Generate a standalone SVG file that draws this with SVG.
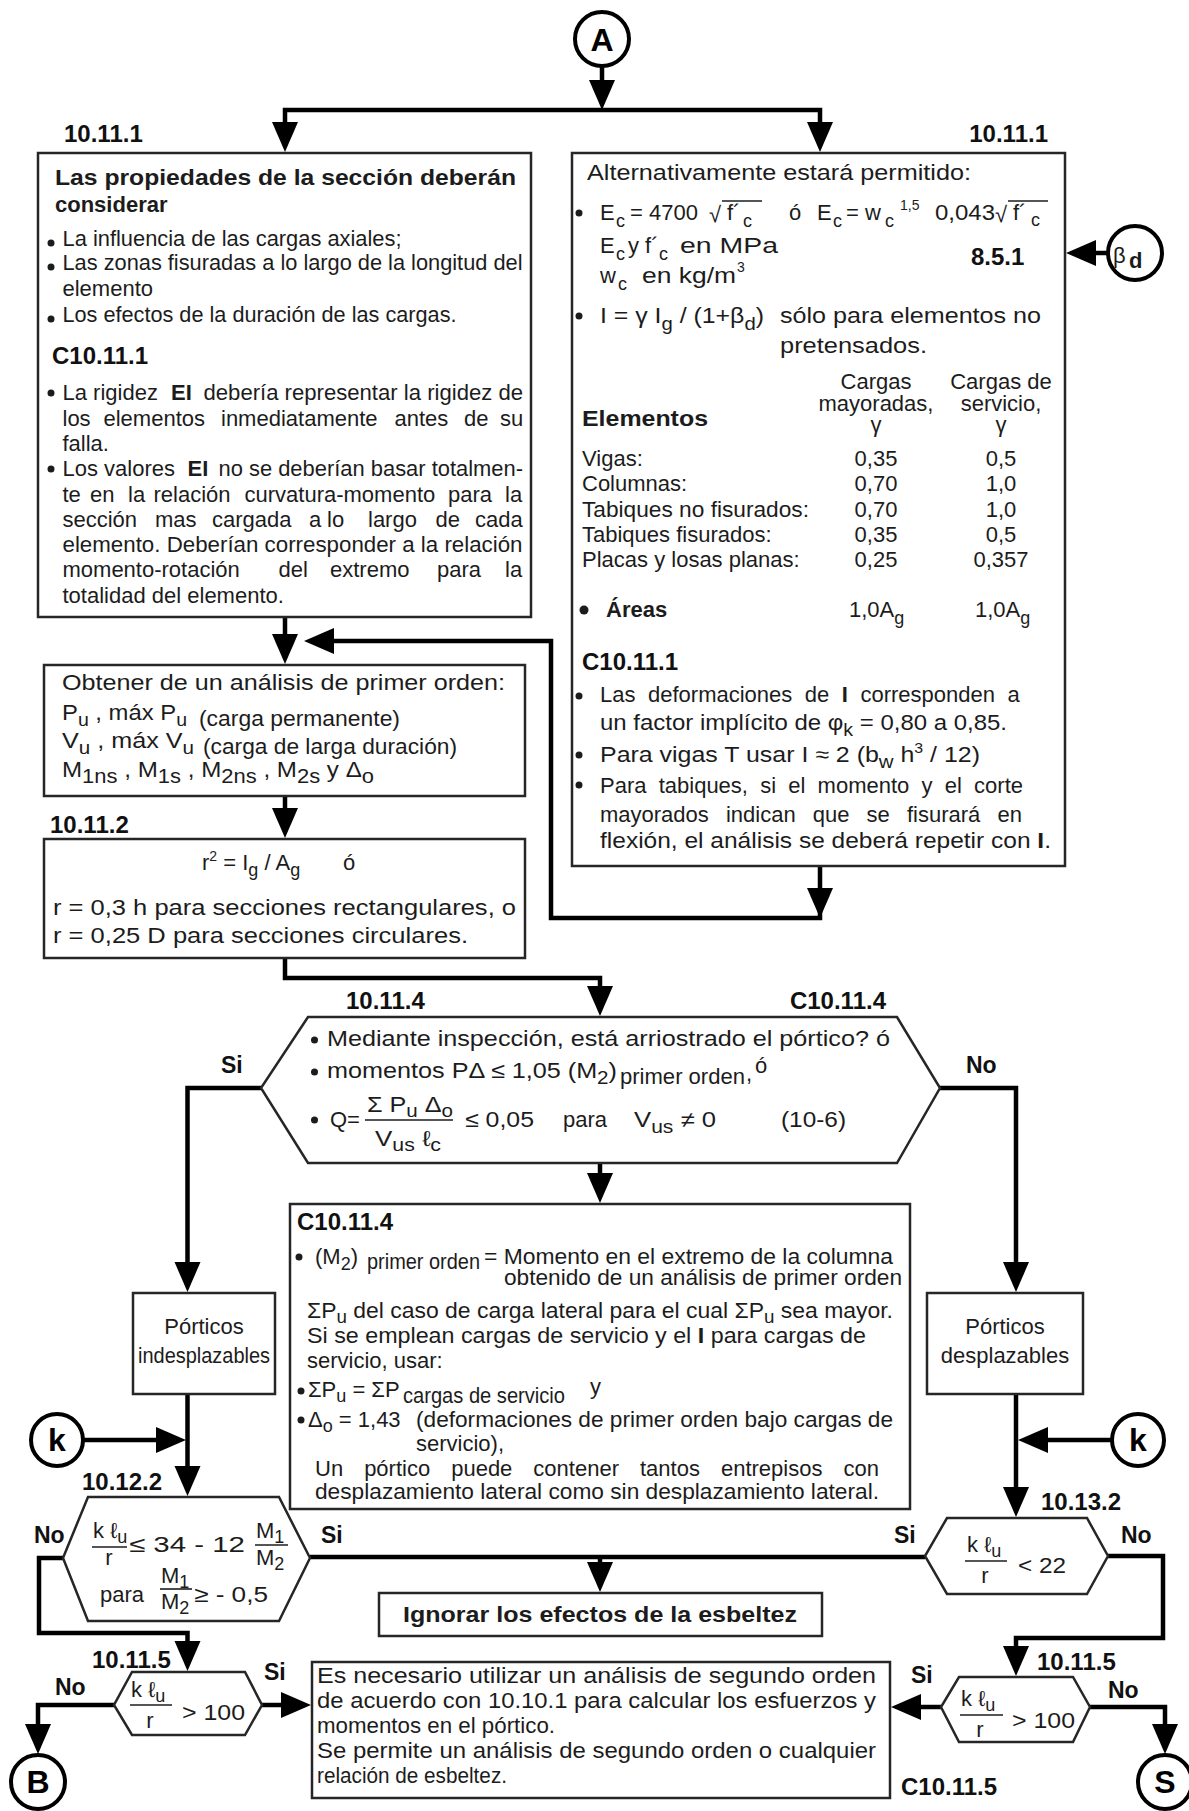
<svg xmlns="http://www.w3.org/2000/svg" width="1189" height="1811" viewBox="0 0 1189 1811">
<style>
text{font-family:"Liberation Sans",Arial,"DejaVu Sans",sans-serif;font-size:22px;fill:#1c1c1c}
.b{font-weight:bold}
.lb{font-weight:bold;font-size:24px;fill:#111}
.sn{font-weight:bold;font-size:23px;fill:#111}
.sm{font-size:18px}
.ss{font-size:14px}
.mid{text-anchor:middle}
.end{text-anchor:end}
.box{fill:#fff;stroke:#262626;stroke-width:2.5}
.cn{fill:none;stroke:#000;stroke-width:4.5}
.ci{fill:#fff;stroke:#000;stroke-width:4}
.bar{stroke:#1c1c1c;stroke-width:1.6}
.dot{fill:#1c1c1c}
.cl{font-weight:bold;font-size:32px;fill:#000;text-anchor:middle}
</style>
<defs><path id="ah" d="M0,0 L-13,-30 L13,-30 Z" fill="#000"/></defs>
<rect width="1189" height="1811" fill="#fff"/>

<g id="connectors">
<path class="cn" d="M602,66 V85"/><use href="#ah" transform="translate(602,110)"/>
<path class="cn" d="M285,125 V110 H820 V125"/><use href="#ah" transform="translate(285,152)"/><use href="#ah" transform="translate(820,152)"/>
<path class="cn" d="M285,617 V640"/><use href="#ah" transform="translate(285,664)"/>
<path class="cn" d="M820,866 V918 H551 V641 H330"/><use href="#ah" transform="translate(820,918)"/><use href="#ah" transform="translate(304,641) rotate(90)"/>
<path class="cn" d="M285,796 V815"/><use href="#ah" transform="translate(285,838)"/>
<path class="cn" d="M285,958 V978 H600 V992"/><use href="#ah" transform="translate(600,1016)"/>
<path class="cn" d="M600,1163 V1180"/><use href="#ah" transform="translate(600,1203)"/>
<path class="cn" d="M261,1088 H187.5 V1270"/><use href="#ah" transform="translate(187.5,1292)"/>
<path class="cn" d="M940,1088 H1016 V1270"/><use href="#ah" transform="translate(1016,1292)"/>
<path class="cn" d="M187.5,1394 V1475"/><use href="#ah" transform="translate(187.5,1496)"/>
<path class="cn" d="M83,1440 H160"/><use href="#ah" transform="translate(186,1440) rotate(-90)"/>
<path class="cn" d="M1016,1394 V1495"/><use href="#ah" transform="translate(1016,1517)"/>
<path class="cn" d="M1112,1440 H1045"/><use href="#ah" transform="translate(1018,1440) rotate(90)"/>
<path class="cn" d="M310,1557 H925"/>
<path class="cn" d="M600,1557 V1570"/><use href="#ah" transform="translate(600,1592)"/>
<path class="cn" d="M63,1558 H39 V1633 H187.5 V1650"/><use href="#ah" transform="translate(187.5,1671)"/>
<path class="cn" d="M114,1705 H38 V1733"/><use href="#ah" transform="translate(38,1754)"/>
<path class="cn" d="M262,1705 H285"/><use href="#ah" transform="translate(311,1705) rotate(-90)"/>
<path class="cn" d="M1108,1556 H1163 V1638 H1016 V1655"/><use href="#ah" transform="translate(1016,1676)"/>
<path class="cn" d="M941,1707 H915"/><use href="#ah" transform="translate(891,1707) rotate(90)"/>
<path class="cn" d="M1090,1707 H1165 V1733"/><use href="#ah" transform="translate(1165,1754)"/>
<path class="cn" d="M1108,253 H1090"/><use href="#ah" transform="translate(1066,253) rotate(90)"/>
</g>

<g id="n-A"><circle class="ci" cx="602" cy="39" r="27"/><text class="cl" x="602" y="51">A</text></g>

<g id="n-props">
<text class="lb" x="64" y="142">10.11.1</text>
<rect class="box" x="38" y="153" width="493" height="464"/>
<text class="b" x="55" y="185" font-size="24.5" textLength="461" lengthAdjust="spacingAndGlyphs">Las propiedades de la sección deberán</text>
<text class="b" x="55" y="212" font-size="24.5">considerar</text>
<circle class="dot" cx="51" cy="243" r="3.5"/><circle class="dot" cx="51" cy="267" r="3.5"/><circle class="dot" cx="51" cy="319" r="3.5"/>
<text x="62.5" y="246" textLength="339" lengthAdjust="spacingAndGlyphs">La influencia de las cargas axiales;</text>
<text x="62.5" y="270" textLength="460" lengthAdjust="spacingAndGlyphs">Las zonas fisuradas a lo largo de la longitud del</text>
<text x="62.5" y="296">elemento</text>
<text x="62.5" y="322" textLength="394" lengthAdjust="spacingAndGlyphs">Los efectos de la duración de las cargas.</text>
<text class="lb" x="52" y="364">C10.11.1</text>
<circle class="dot" cx="51" cy="393" r="3.5"/><circle class="dot" cx="51" cy="469" r="3.5"/>
<text x="62.5" y="400">La rigidez</text><text class="b" x="171" y="400">EI</text>
<text x="203.5" y="400" textLength="319.5" lengthAdjust="spacingAndGlyphs">debería representar la rigidez de</text>
<text y="426"><tspan x="62.5">los</tspan><tspan x="103.5">elementos</tspan><tspan x="221">inmediatamente</tspan><tspan x="394.5">antes</tspan><tspan x="464">de</tspan><tspan x="500">su</tspan></text>
<text x="62.5" y="451">falla.</text>
<text x="62.5" y="476">Los valores</text><text class="b" x="187.5" y="476">EI</text>
<text x="218.5" y="476" textLength="304.5" lengthAdjust="spacingAndGlyphs">no se deberían basar totalmen-</text>
<text y="502"><tspan x="62.5">te</tspan><tspan x="90">en</tspan><tspan x="128">la</tspan><tspan x="153.5">relación</tspan><tspan x="244.5">curvatura-momento</tspan><tspan x="448">para</tspan><tspan x="505">la</tspan></text>
<text y="527"><tspan x="62.5">sección</tspan><tspan x="155">mas</tspan><tspan x="212">cargada</tspan><tspan x="309">a</tspan><tspan x="327">lo</tspan><tspan x="368">largo</tspan><tspan x="435.5">de</tspan><tspan x="475">cada</tspan></text>
<text x="62.5" y="552" textLength="460" lengthAdjust="spacingAndGlyphs">elemento. Deberían corresponder a la relación</text>
<text y="577"><tspan x="62.5">momento-rotación</tspan><tspan x="278.5">del</tspan><tspan x="330">extremo</tspan><tspan x="437">para</tspan><tspan x="505">la</tspan></text>
<text x="62.5" y="603">totalidad del elemento.</text>
</g>

<g id="n-alt" font-size="25">
<text class="lb end" x="1048" y="142">10.11.1</text>
<rect class="box" x="572" y="153" width="493" height="713"/>
<text x="587" y="180" font-size="25" textLength="384" lengthAdjust="spacingAndGlyphs">Alternativamente estará permitido:</text>
<circle class="dot" cx="579" cy="213" r="3.5"/>
<text x="600" y="220" font-size="25">E</text><text class="sm" x="616" y="227">c</text>
<text x="630" y="220" font-size="25">= 4700</text>
<text x="709" y="222" font-size="25">√</text><line class="bar" x1="722" y1="201" x2="762" y2="201"/>
<text x="727" y="220" font-size="25">f´</text><text class="sm" x="743" y="227">c</text>
<text x="789" y="220" font-size="25">ó</text>
<text x="817" y="220" font-size="25">E</text><text class="sm" x="833" y="227">c</text>
<text x="846" y="220" font-size="25">= w</text><text class="sm" x="885" y="227">c</text>
<text class="ss" x="900" y="210">1,5</text>
<text x="935" y="220" font-size="25" textLength="60" lengthAdjust="spacingAndGlyphs">0,043</text>
<text x="995" y="222" font-size="25">√</text><line class="bar" x1="1008" y1="201" x2="1048" y2="201"/>
<text x="1013" y="220" font-size="25">f´</text><text class="sm" x="1031" y="226">c</text>
<text x="600" y="253" font-size="25">E</text><text class="sm" x="616" y="260">c</text>
<text x="628" y="253" font-size="25">y f´</text><text class="sm" x="659" y="260">c</text>
<text x="680" y="253" font-size="25" textLength="98" lengthAdjust="spacingAndGlyphs">en MPa</text>
<text class="lb" x="971" y="265">8.5.1</text>
<text x="600" y="283" font-size="25">w</text><text class="sm" x="618" y="290">c</text>
<text x="642" y="283" font-size="25" textLength="94" lengthAdjust="spacingAndGlyphs">en kg/m</text><text class="ss" x="737" y="272">3</text>
<circle class="dot" cx="579" cy="316" r="3.5"/>
<text x="600" y="323" font-size="25" textLength="164" lengthAdjust="spacingAndGlyphs">I = γ I<tspan class="sm" dy="7">g</tspan><tspan dy="-7"> / (1+β</tspan><tspan class="sm" dy="7">d</tspan><tspan dy="-7">)</tspan></text>
<text x="780" y="323" font-size="25" textLength="261" lengthAdjust="spacingAndGlyphs">sólo para elementos no</text>
<text x="780" y="353" font-size="25" textLength="147" lengthAdjust="spacingAndGlyphs">pretensados.</text>
<text class="mid" x="876" y="389" font-size="22.5">Cargas</text>
<text class="mid" x="876" y="411" font-size="22.5">mayoradas,</text>
<text class="mid" x="876" y="432" font-size="22.5">γ</text>
<text class="mid" x="1001" y="389" font-size="22.5">Cargas de</text>
<text class="mid" x="1001" y="411" font-size="22.5">servicio,</text>
<text class="mid" x="1001" y="432" font-size="22.5">γ</text>
<text class="b" x="582" y="426" font-size="24" textLength="126" lengthAdjust="spacingAndGlyphs">Elementos</text>
<text x="582" y="466" font-size="22.5">Vigas:</text><text class="mid" x="876" y="466" font-size="22.5">0,35</text><text class="mid" x="1001" y="466" font-size="22.5">0,5</text>
<text x="582" y="491" font-size="22.5">Columnas:</text><text class="mid" x="876" y="491" font-size="22.5">0,70</text><text class="mid" x="1001" y="491" font-size="22.5">1,0</text>
<text x="582" y="517" font-size="22.5" textLength="227" lengthAdjust="spacingAndGlyphs">Tabiques no fisurados:</text><text class="mid" x="876" y="517" font-size="22.5">0,70</text><text class="mid" x="1001" y="517" font-size="22.5">1,0</text>
<text x="582" y="542" font-size="22.5">Tabiques fisurados:</text><text class="mid" x="876" y="542" font-size="22.5">0,35</text><text class="mid" x="1001" y="542" font-size="22.5">0,5</text>
<text x="582" y="567" font-size="22.5">Placas y losas planas:</text><text class="mid" x="876" y="567" font-size="22.5">0,25</text><text class="mid" x="1001" y="567" font-size="22.5">0,357</text>
<circle class="dot" cx="584" cy="610" r="4.5"/>
<text class="b" x="606" y="617" font-size="24">Áreas</text>
<text x="849" y="617" font-size="22.5">1,0A<tspan class="sm" dy="7">g</tspan></text>
<text x="975" y="617" font-size="22.5">1,0A<tspan class="sm" dy="7">g</tspan></text>
<text class="lb" x="582" y="670">C10.11.1</text>
<circle class="dot" cx="579" cy="696" r="3.5"/><circle class="dot" cx="579" cy="755" r="3.5"/><circle class="dot" cx="579" cy="785" r="3.5"/>
<text x="600" y="702" font-size="24" word-spacing="6.4">Las deformaciones de <tspan class="b">I</tspan> corresponden a</text>
<text x="600" y="730" font-size="24" textLength="407" lengthAdjust="spacingAndGlyphs">un factor implícito de  φ<tspan class="sm" dy="6">k</tspan><tspan dy="-6"> = 0,80 a 0,85.</tspan></text>
<text x="600" y="762" font-size="24" textLength="380" lengthAdjust="spacingAndGlyphs">Para vigas T  usar   I ≈ 2 (b<tspan class="sm" dy="6">w</tspan><tspan dy="-6"> h</tspan><tspan class="ss" dy="-9">3</tspan><tspan dy="9"> / 12)</tspan></text>
<text x="600" y="793" font-size="24" word-spacing="6.1">Para tabiques, si el momento y el corte</text>
<text x="600" y="822" font-size="24" word-spacing="11">mayorados indican que se fisurará en</text>
<text x="600" y="848" font-size="24" textLength="451" lengthAdjust="spacingAndGlyphs">flexión, el análisis se deberá repetir con <tspan class="b">I</tspan>.</text>
</g>

<g id="n-beta"><circle class="ci" cx="1135" cy="253" r="27"/><text x="1113" y="263" font-size="27">β</text><text class="b" x="1129" y="268" font-size="27">d</text></g>

<g id="n-first">
<rect class="box" x="44" y="665" width="481" height="131"/>
<text x="62" y="690" font-size="25" textLength="443" lengthAdjust="spacingAndGlyphs">Obtener de un análisis de primer orden:</text>
<text x="62" y="720" font-size="25" textLength="125" lengthAdjust="spacingAndGlyphs">P<tspan class="sm" dy="6">u</tspan><tspan dy="-6"> , máx P</tspan><tspan class="sm" dy="6">u</tspan></text>
<text x="199" y="726" font-size="23" textLength="201" lengthAdjust="spacingAndGlyphs">(carga permanente)</text>
<text x="62" y="748" font-size="25" textLength="132" lengthAdjust="spacingAndGlyphs">V<tspan class="sm" dy="6">u</tspan><tspan dy="-6"> , máx V</tspan><tspan class="sm" dy="6">u</tspan></text>
<text x="203" y="754" font-size="23" textLength="254" lengthAdjust="spacingAndGlyphs">(carga de larga duración)</text>
<text x="62" y="777" font-size="25" textLength="312" lengthAdjust="spacingAndGlyphs">M<tspan font-size="20" dy="6">1ns</tspan><tspan dy="-6"> , M</tspan><tspan font-size="20" dy="6">1s</tspan><tspan dy="-6"> , M</tspan><tspan font-size="20" dy="6">2ns</tspan><tspan dy="-6"> , M</tspan><tspan font-size="20" dy="6">2s</tspan><tspan dy="-6"> y Δ</tspan><tspan font-size="20" dy="6">o</tspan></text>
</g>

<g id="n-radius">
<text class="lb" x="50" y="833">10.11.2</text>
<rect class="box" x="44" y="839" width="481" height="119"/>
<text x="202" y="870" font-size="25">r<tspan class="ss" dy="-9">2</tspan><tspan dy="9"> = I</tspan><tspan class="sm" dy="6">g</tspan><tspan dy="-6"> / A</tspan><tspan class="sm" dy="6">g</tspan></text>
<text x="343" y="870" font-size="25">ó</text>
<text x="53" y="915" font-size="25" textLength="463" lengthAdjust="spacingAndGlyphs">r = 0,3 h  para secciones rectangulares, o</text>
<text x="53" y="943" font-size="25" textLength="415" lengthAdjust="spacingAndGlyphs">r = 0,25 D  para secciones circulares.</text>
</g>

<g id="n-braced">
<text class="lb" x="346" y="1009">10.11.4</text>
<text class="lb end" x="886" y="1009">C10.11.4</text>
<polygon class="box" points="308,1017 897,1017 940,1088 897,1163 308,1163 261,1088"/>
<circle class="dot" cx="314.5" cy="1040" r="3.5"/><circle class="dot" cx="314.5" cy="1072" r="3.5"/><circle class="dot" cx="314.5" cy="1120" r="3.5"/>
<text x="327" y="1046" font-size="25" textLength="563" lengthAdjust="spacingAndGlyphs">Mediante inspección, está arriostrado el pórtico? ó</text>
<text x="327" y="1078" font-size="25" textLength="290" lengthAdjust="spacingAndGlyphs">momentos PΔ ≤ 1,05 (M<tspan class="sm" dy="6">2</tspan><tspan dy="-6">)</tspan></text>
<text x="620" y="1084" font-size="18" textLength="125" lengthAdjust="spacingAndGlyphs">primer orden</text>
<text x="746" y="1081" font-size="20">,</text>
<text x="755" y="1073" font-size="20">ó</text>
<text x="330" y="1127" font-size="25">Q=</text>
<text x="367" y="1112" font-size="25" textLength="86" lengthAdjust="spacingAndGlyphs">Σ P<tspan class="sm" dy="5">u</tspan><tspan dy="-5"> Δ</tspan><tspan class="sm" dy="5">o</tspan></text>
<line class="bar" x1="365" y1="1120" x2="453" y2="1120"/>
<text x="375" y="1146" font-size="25" textLength="66" lengthAdjust="spacingAndGlyphs">V<tspan class="sm" dy="5">us</tspan><tspan dy="-5"> ℓ</tspan><tspan class="sm" dy="5">c</tspan></text>
<text x="465" y="1127" font-size="25" textLength="69" lengthAdjust="spacingAndGlyphs">≤ 0,05</text>
<text x="563" y="1127" font-size="25">para</text>
<text x="634" y="1127" font-size="25" textLength="82" lengthAdjust="spacingAndGlyphs">V<tspan class="sm" dy="6">us</tspan><tspan dy="-6"> ≠ 0</tspan></text>
<text x="781" y="1127" font-size="25" textLength="65" lengthAdjust="spacingAndGlyphs">(10-6)</text>
<text class="sn" x="221" y="1073">Si</text>
<text class="sn" x="966" y="1073">No</text>
</g>

<g id="n-c1114" font-size="22.7">
<rect class="box" x="290" y="1204" width="620" height="305"/>
<text class="lb" x="297" y="1230">C10.11.4</text>
<circle class="dot" cx="299" cy="1257" r="3.5"/>
<text x="315" y="1264" font-size="22.7">(M<tspan class="sm" dy="6">2</tspan><tspan dy="-6">)</tspan></text>
<text x="367" y="1269" font-size="17" textLength="113" lengthAdjust="spacingAndGlyphs">primer orden</text>
<text x="484" y="1264" font-size="22.7" textLength="409" lengthAdjust="spacingAndGlyphs">= Momento en el extremo de la columna</text>
<text x="504" y="1285" font-size="22.7" textLength="398" lengthAdjust="spacingAndGlyphs">obtenido de un análisis de primer orden</text>
<text x="307" y="1318" font-size="22.7" textLength="586" lengthAdjust="spacingAndGlyphs">ΣP<tspan class="sm" dy="5">u</tspan><tspan dy="-5"> del caso de carga lateral para el cual ΣP</tspan><tspan class="sm" dy="5">u</tspan><tspan dy="-5"> sea mayor.</tspan></text>
<text x="307" y="1343" font-size="22.7" textLength="559" lengthAdjust="spacingAndGlyphs">Si se emplean cargas de servicio y el  <tspan class="b">I</tspan>  para cargas de</text>
<text x="307" y="1368" font-size="22.7">servicio, usar:</text>
<circle class="dot" cx="301" cy="1391" r="3.5"/>
<text x="308" y="1397" font-size="22.7">ΣP<tspan class="sm" dy="5">u</tspan><tspan dy="-5"> = ΣP</tspan></text>
<text x="403" y="1403" font-size="18" textLength="162" lengthAdjust="spacingAndGlyphs">cargas de servicio</text>
<text x="590" y="1394" font-size="22.7">y</text>
<circle class="dot" cx="301" cy="1420" r="3.5"/>
<text x="308" y="1427" font-size="22.7">Δ<tspan class="sm" dy="5">o</tspan><tspan dy="-5"> = 1,43</tspan></text>
<text x="416" y="1427" font-size="22.7" textLength="477" lengthAdjust="spacingAndGlyphs">(deformaciones de primer orden bajo cargas de</text>
<text x="416" y="1451" font-size="22.7">servicio),</text>
<text x="315" y="1476" font-size="22.7" word-spacing="14.9">Un pórtico puede contener tantos entrepisos con</text>
<text x="315" y="1499" font-size="22.7" textLength="564" lengthAdjust="spacingAndGlyphs">desplazamiento lateral como sin desplazamiento lateral.</text>
</g>

<g id="n-indesp">
<rect class="box" x="133" y="1293" width="142" height="101"/>
<text class="mid" x="204" y="1334">Pórticos</text>
<text class="mid" x="204" y="1363" textLength="132" lengthAdjust="spacingAndGlyphs">indesplazables</text>
</g>
<g id="n-desp">
<rect class="box" x="927" y="1293" width="156" height="101"/>
<text class="mid" x="1005" y="1334">Pórticos</text>
<text class="mid" x="1005" y="1363">desplazables</text>
</g>

<g id="n-kL"><circle class="ci" cx="57" cy="1440" r="26"/><text class="cl" x="57" y="1451" font-size="30">k</text></g>
<g id="n-kR"><circle class="ci" cx="1138" cy="1440" r="26"/><text class="cl" x="1138" y="1451" font-size="30">k</text></g>

<g id="n-1012">
<text class="lb" x="82" y="1490">10.12.2</text>
<polygon class="box" points="88,1497 279,1497 310,1558 279,1621 88,1621 63,1558"/>
<text x="93" y="1538" font-size="25">k ℓ<tspan class="sm" dy="5">u</tspan></text>
<line class="bar" x1="92" y1="1547" x2="127" y2="1547"/>
<text class="mid" x="109" y="1565" font-size="25">r</text>
<text x="129" y="1552" font-size="25" textLength="116" lengthAdjust="spacingAndGlyphs">≤ 34 - 12</text>
<text x="256" y="1538" font-size="25">M<tspan class="sm" dy="5">1</tspan></text>
<line class="bar" x1="255" y1="1545" x2="288" y2="1545"/>
<text x="256" y="1565" font-size="25">M<tspan class="sm" dy="5">2</tspan></text>
<text x="100" y="1602" font-size="25">para</text>
<text x="161" y="1583" font-size="25">M<tspan class="sm" dy="5">1</tspan></text>
<line class="bar" x1="160" y1="1589" x2="192" y2="1589"/>
<text x="161" y="1609" font-size="25">M<tspan class="sm" dy="5">2</tspan></text>
<text x="194" y="1602" font-size="25" textLength="74" lengthAdjust="spacingAndGlyphs">≥ - 0,5</text>
<text class="sn" x="34" y="1543">No</text>
<text class="sn" x="321" y="1543">Si</text>
</g>

<g id="n-1013">
<text class="lb" x="1041" y="1510">10.13.2</text>
<polygon class="box" points="947,1518 1087,1518 1108,1556 1087,1594 947,1594 925,1556"/>
<text x="967" y="1552" font-size="25">k ℓ<tspan class="sm" dy="5">u</tspan></text>
<line class="bar" x1="965" y1="1561" x2="1007" y2="1561"/>
<text class="mid" x="985" y="1583" font-size="25">r</text>
<text x="1018" y="1573" font-size="25" textLength="48" lengthAdjust="spacingAndGlyphs">&lt; 22</text>
<text class="sn" x="894" y="1543">Si</text>
<text class="sn" x="1121" y="1543">No</text>
</g>

<g id="n-ignore">
<rect class="box" x="379" y="1593" width="443" height="43"/>
<text class="b mid" x="600" y="1622" font-size="25" textLength="394" lengthAdjust="spacingAndGlyphs">Ignorar los efectos de la esbeltez</text>
</g>

<g id="n-1115L">
<text class="lb" x="92" y="1668">10.11.5</text>
<polygon class="box" points="132,1672 245,1672 262,1705 245,1735 132,1735 114,1705"/>
<text x="131" y="1697" font-size="25">k ℓ<tspan class="sm" dy="5">u</tspan></text>
<line class="bar" x1="130" y1="1705" x2="172" y2="1705"/>
<text class="mid" x="150" y="1728" font-size="25">r</text>
<text x="182" y="1720" font-size="25" textLength="63" lengthAdjust="spacingAndGlyphs">&gt; 100</text>
<text class="sn" x="55" y="1695">No</text>
<text class="sn" x="264" y="1680">Si</text>
</g>

<g id="n-1115R">
<text class="lb" x="1037" y="1670">10.11.5</text>
<polygon class="box" points="959,1677 1073,1677 1090,1707 1073,1742 959,1742 941,1707"/>
<text x="961" y="1706" font-size="25">k ℓ<tspan class="sm" dy="5">u</tspan></text>
<line class="bar" x1="960" y1="1715" x2="1003" y2="1715"/>
<text class="mid" x="980" y="1737" font-size="25">r</text>
<text x="1012" y="1728" font-size="25" textLength="63" lengthAdjust="spacingAndGlyphs">&gt; 100</text>
<text class="sn" x="911" y="1683">Si</text>
<text class="sn" x="1108" y="1698">No</text>
</g>

<g id="n-second">
<rect class="box" x="312" y="1662" width="578" height="136"/>
<text x="317" y="1683" font-size="24" textLength="559" lengthAdjust="spacingAndGlyphs">Es necesario utilizar un análisis de segundo orden</text>
<text x="317" y="1708" font-size="24" textLength="559" lengthAdjust="spacingAndGlyphs">de acuerdo con 10.10.1 para calcular los esfuerzos y</text>
<text x="317" y="1733" font-size="24" textLength="238" lengthAdjust="spacingAndGlyphs">momentos en el pórtico.</text>
<text x="317" y="1758" font-size="24" textLength="559" lengthAdjust="spacingAndGlyphs">Se permite un análisis de segundo orden o cualquier</text>
<text x="317" y="1783" font-size="24" textLength="190" lengthAdjust="spacingAndGlyphs">relación de esbeltez.</text>
<text class="lb" x="901" y="1795">C10.11.5</text>
</g>

<g id="n-B"><circle class="ci" cx="38" cy="1782" r="27"/><text class="cl" x="38" y="1793" font-size="30">B</text></g>
<g id="n-S"><circle class="ci" cx="1165" cy="1782" r="27"/><text class="cl" x="1165" y="1793" font-size="30">S</text></g>
</svg>
